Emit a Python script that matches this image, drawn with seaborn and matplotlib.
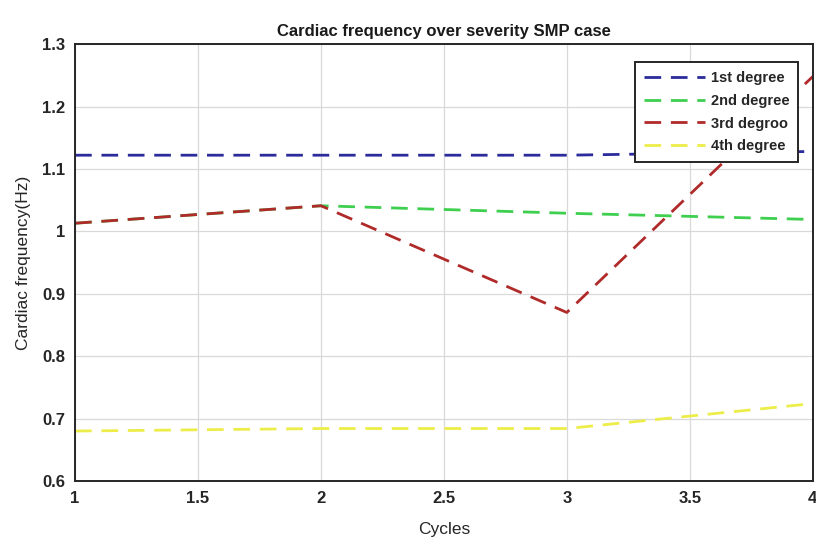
import matplotlib
matplotlib.use("Agg")
import matplotlib.pyplot as plt
import seaborn as sns
import pandas as pd

# Data
cycles = [1, 2, 3, 4]
first_degree = [1.122, 1.122, 1.122, 1.128]
second_degree = [1.013, 1.041, 1.029, 1.019]
third_degree = [1.013, 1.041, 0.870, 1.248]
fourth_degree = [0.680, 0.684, 0.684, 0.724]

series_names = ['1st degree', '2nd degree', '3rd degroo', '4th degree']
series_colors = ['#2b2b9c', '#3fcf4f', '#b02a2a', '#eded4a']

df = pd.DataFrame({
    'Cycles': cycles * 4,
    'value': first_degree + second_degree + third_degree + fourth_degree,
    'series': [n for n in series_names for _ in cycles],
})

sns.set_theme(style="whitegrid")
plt.rcParams['font.family'] = ['Liberation Sans', 'DejaVu Sans']

fig = plt.figure(figsize=(8.16, 5.38), dpi=100)
ax = fig.add_axes([0.092, 0.106, 0.904, 0.812])

sns.lineplot(data=df, x='Cycles', y='value', hue='series', hue_order=series_names,
             palette=series_colors, linewidth=2.0, ax=ax)
for line in ax.get_lines():
    line.set_dashes([6, 3.5])

ax.set_xlim(1, 4)
ax.set_ylim(0.6, 1.3)
ax.set_xticks([1, 1.5, 2, 2.5, 3, 3.5, 4])
ax.set_xticklabels(['1', '1.5', '2', '2.5', '3', '3.5', '4'])
ax.set_yticks([0.6, 0.7, 0.8, 0.9, 1.0, 1.1, 1.2, 1.3])
ax.set_yticklabels(['0.6', '0.7', '0.8', '0.9', '1', '1.1', '1.2', '1.3'])

ax.set_facecolor('white')
ax.grid(True, color='#d9d9d9', linewidth=0.9)
for side in ax.spines.values():
    side.set_color('#262626')
    side.set_linewidth(1.4)
ax.tick_params(axis='both', direction='in', length=5, width=1.2, color='#262626',
               labelsize=12, labelcolor='#262626', pad=7)
for lbl in ax.get_xticklabels() + ax.get_yticklabels():
    lbl.set_fontweight('bold')

ax.set_title('Cardiac frequency over severity SMP case', fontsize=12,
             fontweight='bold', color='#1a1a1a', pad=6)
ax.set_xlabel('Cycles', fontsize=12.5, color='#262626', labelpad=12)
ax.set_ylabel('Cardiac frequency(Hz)', fontsize=12.5, color='#262626', labelpad=8)

leg = ax.legend(loc='upper right', bbox_to_anchor=(0.99, 0.975), fontsize=10.5,
                frameon=True, fancybox=False, framealpha=1, edgecolor='#262626',
                handlelength=4.2, handletextpad=0.4, borderpad=0.6,
                labelspacing=0.6)
leg.get_frame().set_linewidth(1.4)
for txt in leg.get_texts():
    txt.set_fontweight('bold')
for h in leg.get_lines():
    h.set_dashes([6, 3.5])
    h.set_linewidth(2.0)

fig.savefig('out.png', dpi=100)
